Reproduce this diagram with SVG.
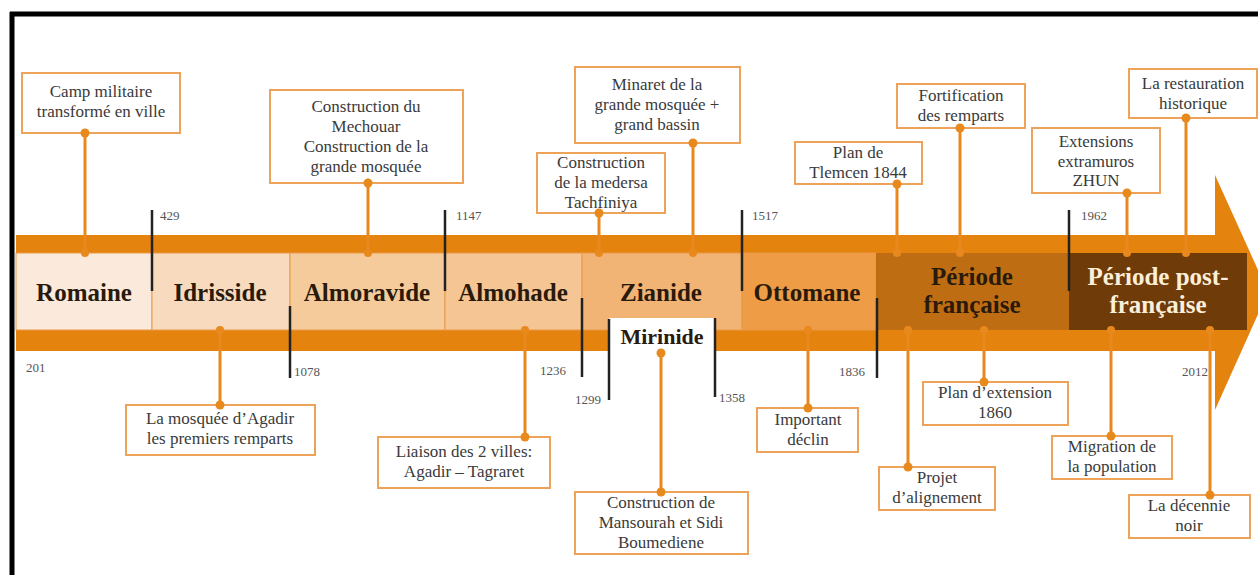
<svg xmlns="http://www.w3.org/2000/svg" width="1258" height="575" viewBox="0 0 1258 575">
<style>
.cb{fill:#fff;stroke:#EDA45A;stroke-width:2}
.ct{font-family:"Liberation Serif",serif;font-size:17px;fill:#3a3a3a;text-anchor:middle}
.pl{font-family:"Liberation Serif",serif;font-size:25px;font-weight:bold;fill:#2a1a0c;text-anchor:middle}
.yr{font-family:"Liberation Serif",serif;font-size:13px;fill:#555}
.conn{stroke:#E8891E;stroke-width:3;fill:none}
.dot{fill:#E8891E}
.yl{stroke:#222;stroke-width:2.5}
.pb{stroke:#E89A4A;stroke-width:1}
</style>
<rect width="1258" height="575" fill="#fff"/>
<g id="frame">
<line x1="12" y1="12" x2="12" y2="575" stroke="#000" stroke-width="5"/>
<line x1="10" y1="14" x2="1258" y2="14" stroke="#000" stroke-width="5"/>
</g>
<g id="band">
<rect x="16" y="235" width="1200" height="116" fill="#E5830F"/>
<polygon points="1215,175 1268,292 1215,410" fill="#E5830F"/>
</g>
<g id="periods">
<g id="p-romaine"><rect class="pb" x="16" y="253" width="136" height="77" fill="#FBEADB"/><text class="pl" x="84" y="301">Romaine</text></g>
<g id="p-idrisside"><rect class="pb" x="152" y="253" width="138" height="77" fill="#F8DBBF"/><text class="pl" x="220" y="301">Idrisside</text></g>
<g id="p-almoravide"><rect class="pb" x="290" y="253" width="155" height="77" fill="#F6CB9C"/><text class="pl" x="367" y="301">Almoravide</text></g>
<g id="p-almohade"><rect class="pb" x="445" y="253" width="137" height="77" fill="#F5C593"/><text class="pl" x="513" y="301">Almohade</text></g>
<g id="p-zianide"><rect class="pb" x="582" y="253" width="160" height="77" fill="#F2B474"/><text class="pl" x="661" y="301">Zianide</text></g>
<g id="p-ottomane"><rect class="pb" x="742" y="253" width="134" height="77" fill="#EE9C45"/><text class="pl" x="807" y="301">Ottomane</text></g>
<g id="p-francaise"><rect x="876" y="253" width="193" height="77" fill="#BF6D12"/><text class="pl" x="972" y="285">Période</text><text class="pl" x="972" y="313">française</text></g>
<g id="p-post"><rect x="1069" y="253" width="178" height="77" fill="#6F3B08"/><text class="pl" x="1158" y="285" fill="#FBEFD9" style="fill:#FBEFD9">Période post-</text><text class="pl" x="1158" y="313" style="fill:#FBEFD9">française</text></g>
<g id="p-mirinide"><rect x="609" y="318" width="106" height="35" fill="#fff"/><text class="pl" x="662" y="344" style="font-size:22px">Mirinide</text></g>
</g>
<g id="connectors">
<line class="conn" x1="85" y1="133" x2="85" y2="253"/>
<line class="conn" x1="368" y1="183" x2="368" y2="253"/>
<line class="conn" x1="693" y1="143" x2="693" y2="253"/>
<line class="conn" x1="599" y1="213" x2="599" y2="253"/>
<line class="conn" x1="897" y1="184" x2="897" y2="253"/>
<line class="conn" x1="960" y1="128" x2="960" y2="253"/>
<line class="conn" x1="1127" y1="193" x2="1127" y2="253"/>
<line class="conn" x1="1186" y1="118" x2="1186" y2="253"/>
<line class="conn" x1="220" y1="330" x2="220" y2="405"/>
<line class="conn" x1="525" y1="330" x2="525" y2="437"/>
<line class="conn" x1="661" y1="353" x2="661" y2="492"/>
<line class="conn" x1="808" y1="330" x2="808" y2="408"/>
<line class="conn" x1="908" y1="330" x2="908" y2="467"/>
<line class="conn" x1="984" y1="330" x2="984" y2="382"/>
<line class="conn" x1="1111" y1="330" x2="1111" y2="436"/>
<line class="conn" x1="1210" y1="330" x2="1210" y2="495"/>
<circle class="dot" cx="85" cy="253" r="4"/>
<circle class="dot" cx="368" cy="253" r="4"/>
<circle class="dot" cx="693" cy="253" r="4"/>
<circle class="dot" cx="599" cy="253" r="4"/>
<circle class="dot" cx="897" cy="253" r="4"/>
<circle class="dot" cx="960" cy="253" r="4"/>
<circle class="dot" cx="1127" cy="253" r="4"/>
<circle class="dot" cx="1186" cy="253" r="4"/>
<circle class="dot" cx="220" cy="330" r="4"/>
<circle class="dot" cx="525" cy="330" r="4"/>
<circle class="dot" cx="661" cy="353" r="4.5"/>
<circle class="dot" cx="808" cy="330" r="4"/>
<circle class="dot" cx="908" cy="330" r="4"/>
<circle class="dot" cx="984" cy="330" r="4"/>
<circle class="dot" cx="1111" cy="330" r="4"/>
<circle class="dot" cx="1210" cy="330" r="4"/>
</g>
<g id="years">
<line class="yl" x1="152" y1="210" x2="152" y2="291"/><text class="yr" x="160" y="220">429</text>
<line class="yl" x1="290" y1="306" x2="290" y2="378"/><text class="yr" x="294" y="376">1078</text>
<line class="yl" x1="445" y1="210" x2="445" y2="291"/><text class="yr" x="456" y="220">1147</text>
<line class="yl" x1="582" y1="298" x2="582" y2="377"/><text class="yr" x="540" y="375">1236</text>
<line class="yl" x1="609" y1="319" x2="609" y2="400"/><text class="yr" x="575" y="404">1299</text>
<line class="yl" x1="715" y1="318" x2="715" y2="397"/><text class="yr" x="719" y="402">1358</text>
<line class="yl" x1="742" y1="210" x2="742" y2="291"/><text class="yr" x="752" y="220">1517</text>
<line class="yl" x1="877" y1="298" x2="877" y2="378"/><text class="yr" x="839" y="376">1836</text>
<line class="yl" x1="1069" y1="210" x2="1069" y2="291"/><text class="yr" x="1081" y="220">1962</text>
<text class="yr" x="26" y="372">201</text>
<text class="yr" x="1182" y="376">2012</text>
</g>
<g id="c-camp"><rect class="cb" x="22" y="73" width="158" height="60"/><text class="ct" x="101" y="97">Camp militaire</text><text class="ct" x="101" y="117">transformé en ville</text><circle class="dot" cx="85" cy="133" r="4.5"/></g>
<g id="c-mechouar"><rect class="cb" x="270" y="90" width="193" height="93"/><text class="ct" x="366" y="112">Construction du</text><text class="ct" x="366" y="132">Mechouar</text><text class="ct" x="366" y="152">Construction de la</text><text class="ct" x="366" y="172">grande mosquée</text><circle class="dot" cx="368" cy="183" r="4.5"/></g>
<g id="c-minaret"><rect class="cb" x="575" y="67" width="165" height="76"/><text class="ct" x="657" y="90">Minaret de la</text><text class="ct" x="657" y="110">grande mosquée +</text><text class="ct" x="657" y="130">grand bassin</text><circle class="dot" cx="693" cy="143" r="4.5"/></g>
<g id="c-medersa"><rect class="cb" x="537" y="153" width="128" height="60"/><text class="ct" x="601" y="168">Construction</text><text class="ct" x="601" y="188">de la medersa</text><text class="ct" x="601" y="208">Tachfiniya</text><circle class="dot" cx="599" cy="213" r="4.5"/></g>
<g id="c-tlemcen"><rect class="cb" x="795" y="142" width="127" height="42"/><text class="ct" x="858" y="158">Plan de</text><text class="ct" x="858" y="178">Tlemcen 1844</text><circle class="dot" cx="897" cy="184" r="4.5"/></g>
<g id="c-fortification"><rect class="cb" x="897" y="84" width="128" height="44"/><text class="ct" x="961" y="101">Fortification</text><text class="ct" x="961" y="121">des remparts</text><circle class="dot" cx="960" cy="128" r="4.5"/></g>
<g id="c-extensions"><rect class="cb" x="1032" y="128" width="128" height="65"/><text class="ct" x="1096" y="147">Extensions</text><text class="ct" x="1096" y="167">extramuros</text><text class="ct" x="1096" y="186">ZHUN</text><circle class="dot" cx="1127" cy="193" r="4.5"/></g>
<g id="c-restauration"><rect class="cb" x="1129" y="69" width="128" height="49"/><text class="ct" x="1193" y="89">La restauration</text><text class="ct" x="1193" y="109">historique</text><circle class="dot" cx="1186" cy="118" r="4.5"/></g>
<g id="c-agadir"><rect class="cb" x="126" y="405" width="189" height="50"/><text class="ct" x="220" y="424">La mosquée d’Agadir</text><text class="ct" x="220" y="444">les premiers remparts</text><circle class="dot" cx="220" cy="405" r="4.5"/></g>
<g id="c-liaison"><rect class="cb" x="378" y="437" width="172" height="51"/><text class="ct" x="464" y="457">Liaison des 2 villes:</text><text class="ct" x="464" y="477">Agadir – Tagraret</text><circle class="dot" cx="525" cy="437" r="4.5"/></g>
<g id="c-mansourah"><rect class="cb" x="575" y="492" width="173" height="62"/><text class="ct" x="661" y="508">Construction de</text><text class="ct" x="661" y="528">Mansourah et Sidi</text><text class="ct" x="661" y="548">Boumediene</text><circle class="dot" cx="661" cy="492" r="4.5"/></g>
<g id="c-declin"><rect class="cb" x="757" y="408" width="101" height="44"/><text class="ct" x="808" y="425">Important</text><text class="ct" x="808" y="445">déclin</text><circle class="dot" cx="808" cy="408" r="4.5"/></g>
<g id="c-alignement"><rect class="cb" x="879" y="467" width="116" height="43"/><text class="ct" x="937" y="483">Projet</text><text class="ct" x="937" y="503">d’alignement</text><circle class="dot" cx="908" cy="467" r="4.5"/></g>
<g id="c-extension1860"><rect class="cb" x="923" y="382" width="145" height="43"/><text class="ct" x="995" y="398">Plan d’extension</text><text class="ct" x="995" y="418">1860</text><circle class="dot" cx="984" cy="382" r="4.5"/></g>
<g id="c-migration"><rect class="cb" x="1052" y="436" width="120" height="43"/><text class="ct" x="1112" y="452">Migration de</text><text class="ct" x="1112" y="472">la population</text><circle class="dot" cx="1111" cy="436" r="4.5"/></g>
<g id="c-decennie"><rect class="cb" x="1129" y="495" width="121" height="43"/><text class="ct" x="1189" y="511">La décennie</text><text class="ct" x="1189" y="531">noir</text><circle class="dot" cx="1210" cy="495" r="4.5"/></g>
</svg>
